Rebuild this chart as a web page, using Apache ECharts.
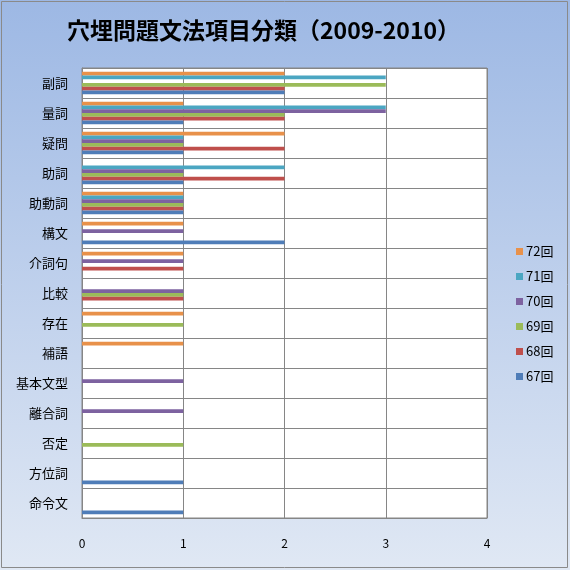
<!DOCTYPE html>
<html>
<head>
<meta charset="utf-8">
<script src="https://cdn.jsdelivr.net/npm/echarts@6/dist/echarts.min.js"></script>
<style>
  html, body { margin: 0; padding: 0; background: #fff; }
  #chart { width: 570px; height: 570px; }
</style>
</head>
<body>
<div id="chart"></div>
<script>
// categories, top to bottom
const categories = ['副詞', '量詞', '疑問', '助詞', '助動詞', '構文', '介詞句', '比較', '存在', '補語', '基本文型', '離合詞', '否定', '方位詞', '命令文'];
const seriesNames = ['72回', '71回', '70回', '69回', '68回', '67回'];
const s72 = [2, 1, 2, 0, 1, 1, 1, 0, 1, 1, 0, 0, 0, 0, 0];
const s71 = [3, 3, 1, 2, 1, 0, 0, 0, 0, 0, 0, 0, 0, 0, 0];
const s70 = [0, 3, 1, 1, 1, 1, 1, 1, 0, 0, 1, 1, 0, 0, 0];
const s69 = [3, 2, 1, 1, 1, 0, 0, 1, 1, 0, 0, 0, 1, 0, 0];
const s68 = [2, 2, 2, 2, 1, 0, 1, 1, 0, 0, 0, 0, 0, 0, 0];
const s67 = [2, 1, 1, 1, 1, 2, 0, 0, 0, 0, 0, 0, 0, 1, 1];
const xTicks = [0, 1, 2, 3, 4];

const values = [s72, s71, s70, s69, s68, s67];
const colors = ['#e8914a', '#4ba6c2', '#7d62a0', '#9bbb59', '#bf4f4c', '#4f7db8'];
const font = '"Noto Sans CJK JP", "Noto Sans", sans-serif';

const chart = echarts.init(document.getElementById('chart'));

const series = seriesNames.map((name, i) => ({
  name: name,
  type: 'bar',
  data: values[i],
  itemStyle: { color: colors[i] },
  barGap: 0,
  barCategoryGap: '25%'
}));

chart.setOption({
  backgroundColor: new echarts.graphic.LinearGradient(0, 0, 0, 1, [
    { offset: 0, color: '#9db8e4' },
    { offset: 1, color: '#e0e8f4' }
  ]),
  animation: false,
  textStyle: { fontFamily: font },
  title: {
    text: '穴埋問題文法項目分類（2009-2010）',
    left: 62,
    top: 14,
    textStyle: { fontSize: 23, fontWeight: 'bold', color: '#000', fontFamily: font }
  },
  legend: {
    orient: 'vertical',
    left: 511,
    top: 240,
    itemWidth: 7,
    itemHeight: 7,
    itemGap: 12,
    icon: 'rect',
    textStyle: { fontSize: 13, color: '#000', padding: [0, 0, 0, -2] },
    data: seriesNames
  },
  grid: {
    left: 82, top: 68, width: 405, height: 450,
    show: true, backgroundColor: '#fff', borderColor: '#868686', borderWidth: 1
  },
  xAxis: {
    type: 'value',
    min: xTicks[0],
    max: xTicks[xTicks.length - 1],
    interval: 1,
    axisLine: { show: true, lineStyle: { color: '#868686' } },
    axisTick: { show: false },
    axisLabel: { color: '#000', fontSize: 12, margin: 19 },
    splitLine: { show: true, lineStyle: { color: '#868686' } }
  },
  yAxis: {
    type: 'category',
    inverse: true,
    data: categories,
    axisLine: { show: true, lineStyle: { color: '#868686' } },
    axisTick: { show: false },
    axisLabel: { color: '#000', fontSize: 13, margin: 14 },
    splitLine: { show: true, lineStyle: { color: '#868686' } }
  },
  graphic: [{
    type: 'rect',
    shape: { x: 1.5, y: 1.5, width: 566, height: 566 },
    style: { fill: null, stroke: '#8a8a8a', lineWidth: 1 },
    silent: true
  }],
  series: series
});
</script>
</body>
</html>
